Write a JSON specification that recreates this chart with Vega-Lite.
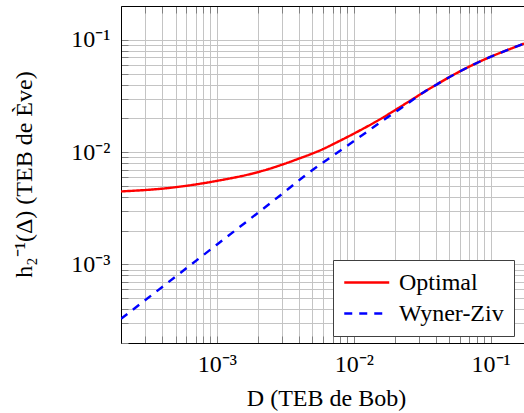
{
  "$schema": "https://vega.github.io/schema/vega-lite/v6.json",
  "width": 403,
  "height": 337,
  "autosize": {"type": "none"},
  "padding": {"left": 121, "top": 6, "right": 0, "bottom": 70},
  "background": "#ffffff",
  "config": {
    "font": "Liberation Serif",
    "view": {"stroke": null},
    "axis": {
      "labelFont": "Liberation Serif",
      "labelFontSize": 24,
      "labelColor": "#000000",
      "titleFont": "Liberation Serif",
      "titleFontSize": 24,
      "titleFontWeight": "normal",
      "titleColor": "#000000",
      "gridColor": "#c4c4c4",
      "gridWidth": 1,
      "gridOpacity": 1,
      "domainColor": "#000000",
      "domainWidth": 1,
      "tickColor": "#808080",
      "tickSize": -7,
      "tickWidth": 1,
      "labelOverlap": false,
      "labelFlush": false
    },
    "legend": {
      "orient": "none",
      "legendX": 212,
      "legendY": 254,
      "title": null,
      "labelFont": "Liberation Serif",
      "labelFontSize": 24,
      "labelColor": "#000000",
      "labelOffset": 31,
      "symbolType": "M-1,0H3",
      "symbolSize": 506,
      "symbolStrokeWidth": 2.4,
      "strokeColor": "#404040",
      "fillColor": "#ffffff",
      "padding": 10,
      "rowPadding": 6,
      "cornerRadius": 0
    }
  },
  "data": {
    "values": [
      {"series": "Optimal", "D": 0.0002, "ber": 0.00447},
      {"series": "Optimal", "D": 0.000435, "ber": 0.00478},
      {"series": "Optimal", "D": 0.000946, "ber": 0.00548},
      {"series": "Optimal", "D": 0.00208, "ber": 0.00673},
      {"series": "Optimal", "D": 0.00408, "ber": 0.00886},
      {"series": "Optimal", "D": 0.00571, "ber": 0.0104},
      {"series": "Optimal", "D": 0.008, "ber": 0.0127},
      {"series": "Optimal", "D": 0.0112, "ber": 0.0157},
      {"series": "Optimal", "D": 0.0161, "ber": 0.0201},
      {"series": "Optimal", "D": 0.0212, "ber": 0.0247},
      {"series": "Optimal", "D": 0.0272, "ber": 0.02985},
      {"series": "Optimal", "D": 0.032, "ber": 0.03378},
      {"series": "Optimal", "D": 0.0383, "ber": 0.03858},
      {"series": "Optimal", "D": 0.0542, "ber": 0.0492},
      {"series": "Optimal", "D": 0.0729, "ber": 0.0593},
      {"series": "Optimal", "D": 0.0984, "ber": 0.0701},
      {"series": "Optimal", "D": 0.14, "ber": 0.0833},
      {"series": "Optimal", "D": 0.175, "ber": 0.0925},
      {"series": "Wyner-Ziv", "D": 0.0002, "ber": 0.000328},
      {"series": "Wyner-Ziv", "D": 0.001, "ber": 0.0015},
      {"series": "Wyner-Ziv", "D": 0.00284, "ber": 0.00403},
      {"series": "Wyner-Ziv", "D": 0.00459, "ber": 0.00642},
      {"series": "Wyner-Ziv", "D": 0.0071, "ber": 0.00935},
      {"series": "Wyner-Ziv", "D": 0.00998, "ber": 0.0125},
      {"series": "Wyner-Ziv", "D": 0.0128, "ber": 0.0155},
      {"series": "Wyner-Ziv", "D": 0.0164, "ber": 0.0192},
      {"series": "Wyner-Ziv", "D": 0.0212, "ber": 0.0237},
      {"series": "Wyner-Ziv", "D": 0.0272, "ber": 0.0294},
      {"series": "Wyner-Ziv", "D": 0.032, "ber": 0.03378},
      {"series": "Wyner-Ziv", "D": 0.0383, "ber": 0.03858},
      {"series": "Wyner-Ziv", "D": 0.0542, "ber": 0.0492},
      {"series": "Wyner-Ziv", "D": 0.0729, "ber": 0.0593},
      {"series": "Wyner-Ziv", "D": 0.0984, "ber": 0.0701},
      {"series": "Wyner-Ziv", "D": 0.14, "ber": 0.0833},
      {"series": "Wyner-Ziv", "D": 0.175, "ber": 0.0925}
    ]
  },
  "layer": [
    {
      "transform": [{"filter": "datum.series === 'Optimal'"}],
      "mark": {"type": "line", "strokeWidth": 2.4, "interpolate": "monotone", "clip": true},
      "encoding": {
        "x": {
          "field": "D", "type": "quantitative",
          "scale": {"type": "log", "domain": [0.0002, 0.175], "nice": false},
          "axis": {
            "orient": "bottom",
            "title": "D (TEB de Bob)",
            "titleX": 205,
            "titlePadding": 10,
            "labelPadding": 16,
            "grid": true,
            "values": [0.0002, 0.0003, 0.0004, 0.0005, 0.0006, 0.0007, 0.0008, 0.0009, 0.001, 0.002, 0.003, 0.004, 0.005, 0.006, 0.007, 0.008, 0.009, 0.01, 0.02, 0.03, 0.04, 0.05, 0.06, 0.07, 0.08, 0.09, 0.1],
            "labelExpr": "datum.value == 0.001 ? '10⁻³' : datum.value == 0.01 ? '10⁻²' : datum.value == 0.1 ? '10⁻¹' : ''"
          }
        },
        "y": {
          "field": "ber", "type": "quantitative",
          "scale": {"type": "log", "domain": [0.0002, 0.2], "nice": false},
          "axis": {
            "orient": "left",
            "title": "h₂⁻¹(Δ) (TEB de Ève)",
            "titleX": -97,
            "titleY": 168,
            "titleBaseline": "middle",
            "labelPadding": 18,
            "grid": true,
            "values": [0.0002, 0.0003, 0.0004, 0.0005, 0.0006, 0.0007, 0.0008, 0.0009, 0.001, 0.002, 0.003, 0.004, 0.005, 0.006, 0.007, 0.008, 0.009, 0.01, 0.02, 0.03, 0.04, 0.05, 0.06, 0.07, 0.08, 0.09, 0.1],
            "labelExpr": "datum.value == 0.001 ? '10⁻³' : datum.value == 0.01 ? '10⁻²' : datum.value == 0.1 ? '10⁻¹' : ''"
          }
        },
        "color": {
          "field": "series", "type": "nominal",
          "scale": {"domain": ["Optimal", "Wyner-Ziv"], "range": ["#ff0000", "#0000ff"]}
        },
        "strokeDash": {
          "field": "series", "type": "nominal",
          "scale": {"domain": ["Optimal", "Wyner-Ziv"], "range": [[1, 0], [8, 7]]}
        }
      }
    },
    {
      "transform": [{"filter": "datum.series === 'Wyner-Ziv'"}],
      "mark": {"type": "line", "strokeWidth": 2.4, "interpolate": "monotone", "clip": true},
      "encoding": {
        "x": {"field": "D", "type": "quantitative", "axis": null},
        "y": {"field": "ber", "type": "quantitative", "axis": null},
        "color": {"field": "series", "type": "nominal"},
        "strokeDash": {"field": "series", "type": "nominal"}
      }
    },
    {
      "mark": {"type": "point", "opacity": 0},
      "encoding": {
        "x": {
          "field": "D", "type": "quantitative",
          "axis": {
            "orient": "top",
            "title": null,
            "labels": false,
            "grid": false,
            "values": [0.0002, 0.0003, 0.0004, 0.0005, 0.0006, 0.0007, 0.0008, 0.0009, 0.001, 0.002, 0.003, 0.004, 0.005, 0.006, 0.007, 0.008, 0.009, 0.01, 0.02, 0.03, 0.04, 0.05, 0.06, 0.07, 0.08, 0.09, 0.1]
          }
        },
        "y": {"field": "ber", "type": "quantitative", "axis": null}
      }
    }
  ],
  "resolve": {"axis": {"x": "independent", "y": "independent"}}
}
